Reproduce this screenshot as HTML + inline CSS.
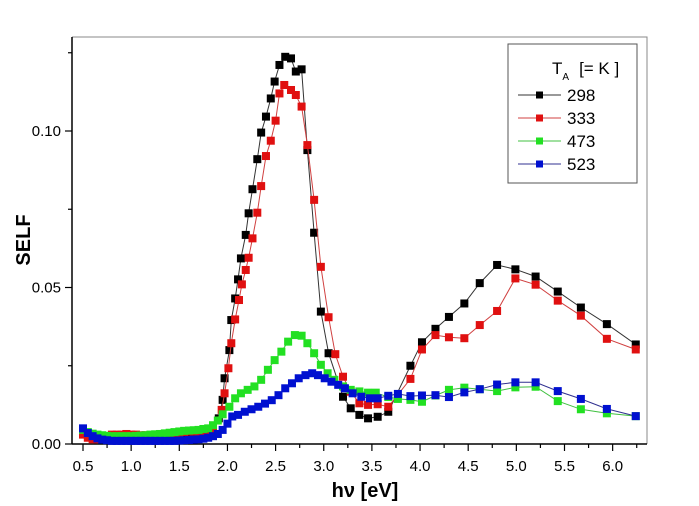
<!DOCTYPE html>
<html><head><meta charset="utf-8"><style>
body{margin:0;background:#fff;}
svg{display:block;font-family:"Liberation Sans",Arial,sans-serif;}
</style></head><body>
<svg id="chart" width="699" height="506" viewBox="0 0 699 506">
<rect width="699" height="506" fill="#fff"/>
<g id="axes"></g>
<g id="plot"></g>
<text x="30" y="240" transform="rotate(-90 30 240)" text-anchor="middle" font-size="20" font-weight="bold">SELF</text>
<text x="365" y="497" text-anchor="middle" font-size="20" font-weight="bold">hν  [eV]</text>
<g>
<rect x="508" y="44" width="129" height="139" fill="#fff" stroke="#555" stroke-width="1"/>
<text x="552" y="74" font-size="17">T<tspan font-size="10" dy="6">A</tspan><tspan dy="-6" dx="10">[= K ]</tspan></text>
<g id="legend-entries"></g>
</g>
</svg>
<script>
const xTickLabels=["0.5","1.0","1.5","2.0","2.5","3.0","3.5","4.0","4.5","5.0","5.5","6.0"];
const yTickLabels=["0.00","0.05","0.10"];
const seriesNames=["298","333","473","523"];
const seriesColors=["#000000","#e01010","#22e022","#0010d0"];
const lineColors=["#333","#d04040","#40c040","#303090"];
const lowE=[0.5,0.55,0.6,0.65,0.7,0.75,0.8,0.85,0.9,0.95,1.0,1.05,1.1,1.15,1.2,1.25,1.3,1.35,1.4,1.45,1.5,1.55,1.6,1.65,1.7,1.75,1.8,1.85];
const blackE=lowE.concat([1.91,1.95,1.97,2.02,2.04,2.08,2.11,2.14,2.19,2.22,2.26,2.31,2.35,2.40,2.45,2.49,2.54,2.60,2.66,2.71,2.77,2.83,2.90,2.97,3.05,3.20,3.28,3.37,3.46,3.56,3.67,3.90,4.02,4.16,4.30,4.46,4.62,4.80,4.99,5.20,5.43,5.67,5.94,6.24]);
const blackV=[0.004,0.003,0.0025,0.002,0.002,0.0018,0.0018,0.0018,0.0018,0.0018,0.0018,0.0018,0.0018,0.0018,0.002,0.002,0.002,0.002,0.002,0.0022,0.0022,0.0024,0.0026,0.0028,0.003,0.0032,0.0035,0.004,
0.0082,0.0141,0.021,0.030,0.0396,0.0465,0.0526,0.0593,0.0668,0.0737,0.0814,0.091,0.0995,0.1046,0.1104,0.1158,0.1211,0.1237,0.1232,0.119,0.1197,0.0939,0.0675,0.0423,0.029,0.0151,0.0114,0.0093,0.0082,0.0087,0.0103,0.025,0.0325,0.0368,0.0406,0.0449,0.0514,0.0572,0.0558,0.0535,0.0487,0.0436,0.0383,0.0318];
const redE=lowE.concat([1.94,1.97,2.01,2.04,2.08,2.12,2.15,2.19,2.22,2.26,2.31,2.35,2.40,2.45,2.50,2.54,2.59,2.66,2.71,2.77,2.83,2.90,2.97,3.05,3.12,3.20,3.28,3.37,3.46,3.56,3.67,3.90,4.02,4.16,4.30,4.46,4.62,4.80,4.99,5.20,5.43,5.67,5.94,6.24]);
const redV=[0.003,0.002,0.0015,0.0015,0.002,0.0025,0.003,0.003,0.003,0.0032,0.003,0.003,0.0028,0.0028,0.0028,0.003,0.003,0.003,0.0032,0.0034,0.0036,0.0038,0.004,0.004,0.0038,0.0036,0.0038,0.0045,
0.0109,0.0162,0.0242,0.0322,0.0398,0.046,0.051,0.0556,0.0595,0.0657,0.0739,0.0824,0.092,0.0969,0.1033,0.112,0.1147,0.1131,0.1115,0.1078,0.0955,0.078,0.0566,0.0405,0.0287,0.0215,0.0167,0.013,0.0125,0.0127,0.0119,0.0208,0.0302,0.0348,0.0341,0.0338,0.038,0.0425,0.0529,0.0509,0.0458,0.041,0.0336,0.0302];
const greenE=lowE.concat([1.90,1.95,2.02,2.08,2.14,2.21,2.28,2.35,2.42,2.49,2.56,2.63,2.70,2.77,2.83,2.90,2.97,3.04,3.11,3.20,3.28,3.37,3.46,3.54,3.67,3.77,3.90,4.02,4.16,4.30,4.46,4.62,4.80,4.99,5.20,5.43,5.67,5.94,6.24]);
const greenV=[0.0045,0.0038,0.0033,0.003,0.0028,0.0026,0.0025,0.0025,0.0025,0.0025,0.0025,0.0026,0.0027,0.0028,0.003,0.0031,0.0032,0.0034,0.0036,0.0038,0.004,0.0042,0.0043,0.0044,0.0045,0.0048,0.005,0.006,
0.0075,0.0095,0.0119,0.0146,0.0162,0.0173,0.0184,0.0205,0.0237,0.0268,0.0295,0.0327,0.0348,0.0346,0.0322,0.029,0.0253,0.0226,0.0205,0.0184,0.0173,0.0168,0.0164,0.0164,0.0150,0.0144,0.0141,0.0135,0.0155,0.0173,0.018,0.0175,0.0169,0.0181,0.0183,0.0137,0.0111,0.0098,0.0089];
const blueE=lowE.concat([1.90,1.95,2.00,2.05,2.11,2.18,2.25,2.32,2.39,2.46,2.53,2.60,2.67,2.74,2.81,2.88,2.94,3.01,3.08,3.15,3.22,3.30,3.39,3.48,3.56,3.67,3.77,3.90,4.02,4.16,4.30,4.46,4.62,4.80,4.99,5.20,5.43,5.67,5.94,6.24]);
const blueV=[0.005,0.0035,0.0025,0.0018,0.0014,0.0012,0.001,0.001,0.001,0.001,0.001,0.001,0.001,0.001,0.001,0.001,0.001,0.001,0.001,0.001,0.0011,0.0012,0.0013,0.0014,0.0015,0.0017,0.002,0.0025,
0.0032,0.0045,0.0065,0.0088,0.0093,0.0103,0.0111,0.0119,0.0129,0.014,0.0156,0.0178,0.0194,0.021,0.022,0.0226,0.022,0.021,0.0199,0.0189,0.0178,0.0162,0.0151,0.0146,0.0146,0.0154,0.016,0.0153,0.0155,0.0156,0.015,0.0165,0.0175,0.019,0.0197,0.0197,0.0169,0.0144,0.0112,0.0089];
const allE=[blackE,redE,greenE,blueE];
const allV=[blackV,redV,greenV,blueV];

const NS="http://www.w3.org/2000/svg";
const L=72,R=647,T=37,B=444;
function xs(e){return 83+(e-0.5)*96.3;}
function ys(v){return B-v*3130;}
function mk(tag,attrs,parent){const el=document.createElementNS(NS,tag);for(const k in attrs)el.setAttribute(k,attrs[k]);parent.appendChild(el);return el;}
const axes=document.getElementById('axes');
let f=mk('path',{d:`M${L},${T}H${R}V${B}`,fill:'none',stroke:'#888','stroke-width':1},axes);


let xa=mk('line',{x1:L,y1:B,x2:R,y2:B,stroke:'#000','stroke-width':1.5},axes);


let ya=mk('line',{x1:L,y1:T,x2:L,y2:B,stroke:'#000','stroke-width':1.5},axes);


for(let i=0;i<24;i++){const e=0.5+i*0.25;const x=xs(e);if(x>R)break;const major=i%2===0;
 const t=mk('line',{x1:x,y1:B,x2:x,y2:B+(major?7:4),stroke:'#000','stroke-width':1.2},axes);
 
 }
xTickLabels.forEach(s=>{const x=xs(parseFloat(s));
 const t=mk('text',{x:x,y:B+27,'text-anchor':'middle','font-size':15},axes);t.textContent=s;
 
 });
for(let i=0;i<6;i++){const v=i*0.025;const y=ys(v);if(y<T)break;const major=i%2===0;
 const t=mk('line',{x1:L-(major?7:4),y1:y,x2:L,y2:y,stroke:'#000','stroke-width':1.2},axes);
 
 }
yTickLabels.forEach(s=>{const y=ys(parseFloat(s));
 const t=mk('text',{x:L-11,y:y+5,'text-anchor':'end','font-size':15},axes);t.textContent=s;
 
 });
const plot=document.getElementById('plot');
allE.forEach((E,si)=>{const V=allV[si];
 const g=mk('g',{},plot);
 
 
 const pts=E.map((e,i)=>xs(e).toFixed(1)+','+ys(V[i]).toFixed(1)).join(' ');
 const pl=mk('polyline',{points:pts,fill:'none',stroke:lineColors[si],'stroke-width':1},g);
 
 
 E.forEach((e,i)=>{const r=mk('rect',{x:xs(e)-4,y:ys(V[i])-4,width:8,height:8,fill:seriesColors[si]},g);
  
  });
});
const le=document.getElementById('legend-entries');
seriesNames.forEach((n,i)=>{const y=95+i*23;
 const g=mk('g',{},le);
 
 
 mk('line',{x1:518,y1:y,x2:561,y2:y,stroke:lineColors[i],'stroke-width':1},g);
 mk('rect',{x:536,y:y-3.5,width:7,height:7,fill:seriesColors[i]},g);
 const t=mk('text',{x:567,y:y+6,'font-size':17},g);t.textContent=n;});
</script>
</body></html>
